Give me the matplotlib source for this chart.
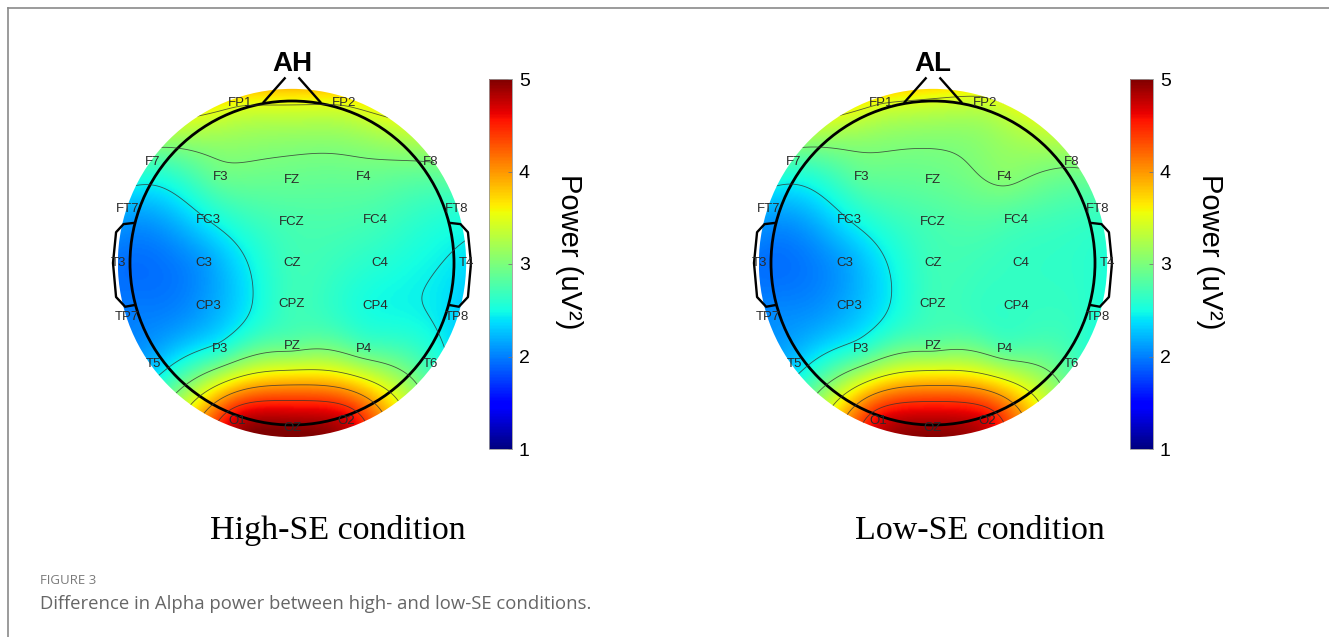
import numpy as np
import matplotlib
matplotlib.use("Agg")
import matplotlib.pyplot as plt
from matplotlib.patches import Circle
from matplotlib.lines import Line2D

# electrode montage (EEGLAB polar coords: theta in degrees, radius 0.5 = head ring)
channels = ["FP1", "FP2",
            "F7", "F3", "FZ", "F4", "F8",
            "FT7", "FC3", "FCZ", "FC4", "FT8",
            "T3", "C3", "CZ", "C4", "T4",
            "TP7", "CP3", "CPZ", "CP4", "TP8",
            "T5", "P3", "PZ", "P4", "T6",
            "O1", "OZ", "O2"]
theta = [-18, 18,
         -54, -40, 0, 40, 54,
         -72, -63, 0, 63, 72,
         -90, -90, 0, 90, 90,
         -108, -117, 180, 117, 108,
         -126, -140, 180, 140, 126,
         -161, 180, 161]
radius = [.52, .52,
          .53, .345, .256, .345, .53,
          .535, .29, .128, .29, .535,
          .537, .272, 0.0, .272, .537,
          .535, .29, .128, .29, .535,
          .53, .345, .256, .345, .53,
          .517, .51, .517]

# alpha power (uV^2)
power_high = [3.56, 3.55,
              2.75, 2.9, 2.9, 2.9, 3.0,
              2.2, 2.45, 2.75, 2.72, 2.6,
              1.95, 2.12, 2.7, 2.58, 2.38,
              2.0, 2.15, 2.7, 2.5, 2.33,
              2.25, 2.55, 2.9, 2.8, 2.65,
              4.75, 4.95, 4.7]
power_low = [3.52, 3.4,
             2.75, 2.85, 2.9, 3.05, 3.05,
             2.2, 2.45, 2.75, 2.75, 2.7,
             1.95, 2.15, 2.7, 2.65, 2.55,
             2.05, 2.2, 2.7, 2.65, 2.55,
             2.3, 2.6, 2.9, 2.8, 2.75,
             4.65, 4.9, 4.65]

map_titles = ["AH", "AL"]
conditions = ["High-SE condition", "Low-SE condition"]
cbar_ticks = [1, 2, 3, 4, 5]
contour_levels = [2.45, 3.0, 3.5, 3.95, 4.4]

W, H = 1329, 637
plt.rcParams['font.family'] = ['Liberation Sans', 'DejaVu Sans']


def fx(px):
    return px / W


def fy(py):
    return 1 - py / H


# biharmonic spline (griddata 'v4')
def v4_interp(x, y, z, xi, yi):
    d = np.hypot(x[:, None] - x[None, :], y[:, None] - y[None, :])
    g = np.where(d > 0, d**2 * (np.log(np.maximum(d, 1e-12)) - 1), 0)
    w = np.linalg.solve(g, z)
    di = np.hypot(xi[..., None] - x, yi[..., None] - y)
    gi = np.where(di > 0, di**2 * (np.log(np.maximum(di, 1e-12)) - 1), 0)
    return gi @ w


def topomap(fig, cx, cy, r, values, title, cbar_x):
    # axes in head units (head ring = 1)
    x0, x1, y0, y1 = -1.25, 1.25, -1.25, 1.3
    ax = fig.add_axes([fx(cx + x0 * r), fy(cy - y0 * r),
                       (x1 - x0) * r / W, (y1 - y0) * r / H])
    ax.set_xlim(x0, x1)
    ax.set_ylim(y0, y1)
    ax.axis('off')

    th = np.deg2rad(theta)
    ex = np.array(radius) / 0.5 * np.sin(th)
    ey = np.array(radius) / 0.5 * np.cos(th)

    R = 1.075
    g = np.linspace(-R, R, 260)
    X, Y = np.meshgrid(g, g)
    Z = v4_interp(ex, ey, np.array(values), X, Y)

    im = ax.imshow(Z, extent=[-R, R, -R, R], origin='lower', cmap='jet',
                   vmin=1, vmax=5, interpolation='bilinear')
    im.set_clip_path(Circle((0, 0), R, transform=ax.transData))
    cs = ax.contour(X, Y, Z, levels=contour_levels, colors='#333333',
                    linewidths=0.6, alpha=0.8)
    cs.set_clip_path(Circle((0, 0), R, transform=ax.transData))

    # head, nose, ears
    ax.add_patch(Circle((0, 0), 1.0, fill=False, lw=2.0, color='k'))
    ax.plot([-0.175, -0.045], [0.993, 1.14], color='k', lw=1.7)
    ax.plot([0.175, 0.045], [0.993, 1.14], color='k', lw=1.7)
    ear_x = np.array([0.98, 1.04, 1.086, 1.105, 1.086, 1.03, 0.975])
    ear_y = np.array([0.247, 0.24, 0.19, 0.0, -0.21, -0.27, -0.26])
    ax.plot(ear_x, ear_y, color='k', lw=1.7, solid_joinstyle='round')
    ax.plot(-ear_x, ear_y, color='k', lw=1.7, solid_joinstyle='round')

    for name, px, py in zip(channels, ex, ey):
        ax.text(px, py, name, ha='center', va='center', fontsize=9.5, color='#2a2a2a')

    ax.text(0, 1.23, title, ha='center', va='center', fontsize=20,
            fontweight='bold', clip_on=False)

    # colorbar
    cax = fig.add_axes([fx(cbar_x), fy(449), 23 / W, 370 / H])
    cb = fig.colorbar(im, cax=cax, ticks=cbar_ticks)
    cb.outline.set_edgecolor('#999999')
    cb.outline.set_linewidth(0.6)
    cax.tick_params(direction='in', length=3, width=0.6, color='#777777',
                    labelsize=14, pad=5)
    fig.text(fx(cbar_x + 80), fy(252), "Power (uV²)", rotation=270,
             ha='center', va='center', fontsize=21)
    return ax


fig = plt.figure(figsize=(W / 100, H / 100), dpi=100)

topomap(fig, 292, 263, 162, power_high, map_titles[0], 489)
topomap(fig, 933, 263, 162, power_low, map_titles[1], 1130)

# condition labels
fig.text(fx(338), fy(531), conditions[0], ha='center', va='center',
         fontsize=24.5, family='Liberation Serif')
fig.text(fx(980), fy(531), conditions[1], ha='center', va='center',
         fontsize=24.5, family='Liberation Serif')

# caption
fig.text(fx(40), fy(580), "FIGURE 3", ha='left', va='center', fontsize=9.5,
         color='#7a7a7a', family='Open Sans')
fig.text(fx(40), fy(604), "Difference in Alpha power between high- and low-SE conditions.",
         ha='left', va='center', fontsize=13.3, color='#666666', family='Open Sans')

# frame lines
fig.add_artist(Line2D([fx(7.5), fx(7.5)], [fy(7.5), 0], color='#8a8a8a', lw=1.2))
fig.add_artist(Line2D([fx(7.5), 1], [fy(7.5), fy(7.5)], color='#8a8a8a', lw=1.2))

fig.savefig("out.png", dpi=100)
